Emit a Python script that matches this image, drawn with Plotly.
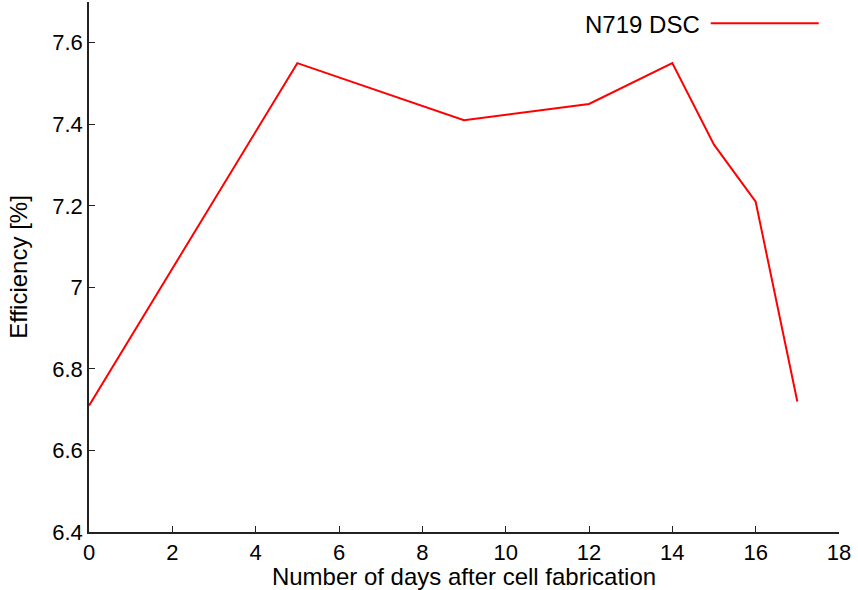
import plotly.graph_objects as go

# Efficiency of an N719 dye-sensitised solar cell over time
days = [0, 5, 9, 12, 14, 15, 16, 17]
efficiency = [6.71, 7.55, 7.41, 7.45, 7.55, 7.35, 7.21, 6.72]
series_name = "N719 DSC"

x_ticks = list(range(0, 19, 2))
y_ticks = [6.4, 6.6, 6.8, 7.0, 7.2, 7.4, 7.6]
y_tick_text = ["6.4", "6.6", "6.8", "7", "7.2", "7.4", "7.6"]

family = "Liberation Sans, Arial, sans-serif"
tick_font = dict(family=family, size=22, color="black")
title_font = dict(family=family, size=24, color="black")

fig = go.Figure()
fig.add_trace(go.Scatter(
    x=days, y=efficiency, mode="lines", name=series_name,
    line=dict(color="#ff0000", width=2), showlegend=False,
))

# gnuplot-style key: label on the left, sample line on the right
fig.add_annotation(
    x=0.817, y=0.958, xref="paper", yref="paper", text=series_name,
    showarrow=False, xanchor="right", yanchor="middle", font=title_font,
)
fig.add_shape(
    type="line", xref="paper", yref="paper",
    x0=0.829, x1=0.973, y0=0.96, y1=0.96,
    line=dict(color="#ff0000", width=2),
)

axis_common = dict(
    showgrid=False, zeroline=False, showline=True, linecolor="#222222",
    linewidth=1.5, ticks="inside", ticklen=6, tickwidth=1, tickcolor="#222222",
    tickfont=tick_font, mirror=False,
)

fig.update_layout(
    width=858, height=590,
    margin=dict(l=89, r=19, t=2, b=58),
    plot_bgcolor="white", paper_bgcolor="white",
    font=tick_font,
    xaxis=dict(range=[0, 18], tickvals=x_ticks,
               title=dict(text="Number of days after cell fabrication", font=title_font, standoff=0),
               **axis_common),
    yaxis=dict(range=[6.4, 7.7], tickvals=y_ticks, ticktext=y_tick_text,
               title=dict(text="Efficiency [%]", font=title_font, standoff=18),
               **axis_common),
)

fig.write_html("out.html")
